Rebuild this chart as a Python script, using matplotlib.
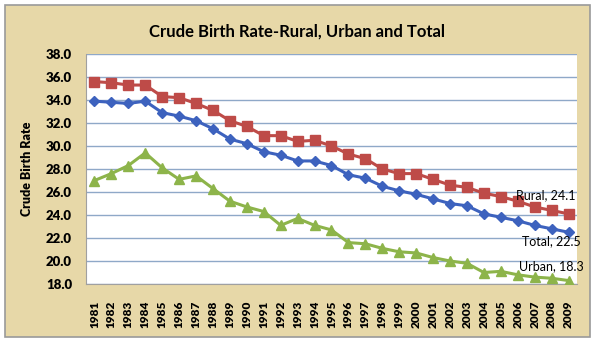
import numpy as np
import matplotlib.pyplot as plt
from matplotlib.patches import Rectangle

# Datos: tasa bruta de natalidad (SRS)
anios = list(range(1981, 2010))
rural = [35.6, 35.5, 35.3, 35.3, 34.3, 34.2, 33.7, 33.1, 32.2, 31.7,
         30.9, 30.9, 30.4, 30.5, 30.0, 29.3, 28.9, 28.0, 27.6, 27.6,
         27.1, 26.6, 26.4, 25.9, 25.6, 25.2, 24.7, 24.4, 24.1]
total = [33.9, 33.8, 33.7, 33.9, 32.9, 32.6, 32.2, 31.5, 30.6, 30.2,
         29.5, 29.2, 28.7, 28.7, 28.3, 27.5, 27.2, 26.5, 26.1, 25.8,
         25.4, 25.0, 24.8, 24.1, 23.8, 23.5, 23.1, 22.8, 22.5]
urbano = [27.0, 27.6, 28.3, 29.4, 28.1, 27.1, 27.4, 26.3, 25.2, 24.7,
          24.3, 23.1, 23.7, 23.1, 22.7, 21.6, 21.5, 21.1, 20.8, 20.7,
          20.3, 20.0, 19.8, 19.0, 19.1, 18.8, 18.6, 18.5, 18.3]
yticks = np.arange(18, 38.1, 2)

plt.rcParams['font.family'] = ['Lato', 'DejaVu Sans']

fig = plt.figure(figsize=(5.97, 3.45), dpi=100)
fig.patch.set_facecolor('white')

# fondo tipo pergamino
marco = Rectangle((5/597, 8/345), 585/597, 332/345, transform=fig.transFigure,
                  facecolor='#E7D8A8', edgecolor='#9A9A9A', lw=1.2, zorder=-5)
fig.patches.append(marco)

ax = fig.add_axes([86/597, 61/345, 491/597, 230/345])
ax.set_zorder(2)
ax.set_facecolor('white')

ax.plot(anios, rural, color='#BE4B48', lw=2.2, marker='s', ms=7.5, zorder=3)
ax.plot(anios, total, color='#3D62BE', lw=2.2, marker='D', ms=5.5, zorder=3)
ax.plot(anios, urbano, color='#8DB44A', lw=2.2, marker='^', ms=7.5, zorder=3)

ax.set_xlim(1980.5, 2009.5)
ax.set_ylim(18, 38)
ax.set_yticks(yticks)
ax.set_yticklabels(['%.1f' % v for v in yticks], fontsize=9.5, fontweight='heavy')
ax.set_xticks(anios)
ax.set_xticklabels([str(a) for a in anios], rotation=90, fontsize=8.5,
                   fontweight='heavy')
ax.tick_params(length=0, pad=10)
ax.tick_params(axis='x', pad=12)
ax.grid(axis='y', color='#8FA8C8', lw=1)
ax.set_axisbelow(True)
for s in ['top', 'right']:
    ax.spines[s].set_visible(False)
ax.spines['left'].set_color('#A0A0A0')
ax.spines['bottom'].set_color('#A0A0A0')

ax.set_ylabel('Crude Birth Rate', fontsize=9, fontweight='heavy', labelpad=9)

# etiquetas al final de cada serie
ax.annotate('Rural, %.1f' % rural[-1], (anios[-1], rural[-1]), xytext=(-23, 19),
            textcoords='offset pixels', ha='center', va='center', fontsize=9)
ax.annotate('Total, %.1f' % total[-1], (anios[-1], total[-1]), xytext=(-17, -9),
            textcoords='offset pixels', ha='center', va='center', fontsize=9)
ax.annotate('Urban, %.1f' % urbano[-1], (anios[-1], urbano[-1]), xytext=(-17, 14),
            textcoords='offset pixels', ha='center', va='center', fontsize=9)

fig.text(297/597, 1 - 32/345, 'Crude Birth Rate-Rural, Urban and Total',
         ha='center', va='center', fontsize=12, fontweight='bold')

plt.savefig('out.png', dpi=100)
